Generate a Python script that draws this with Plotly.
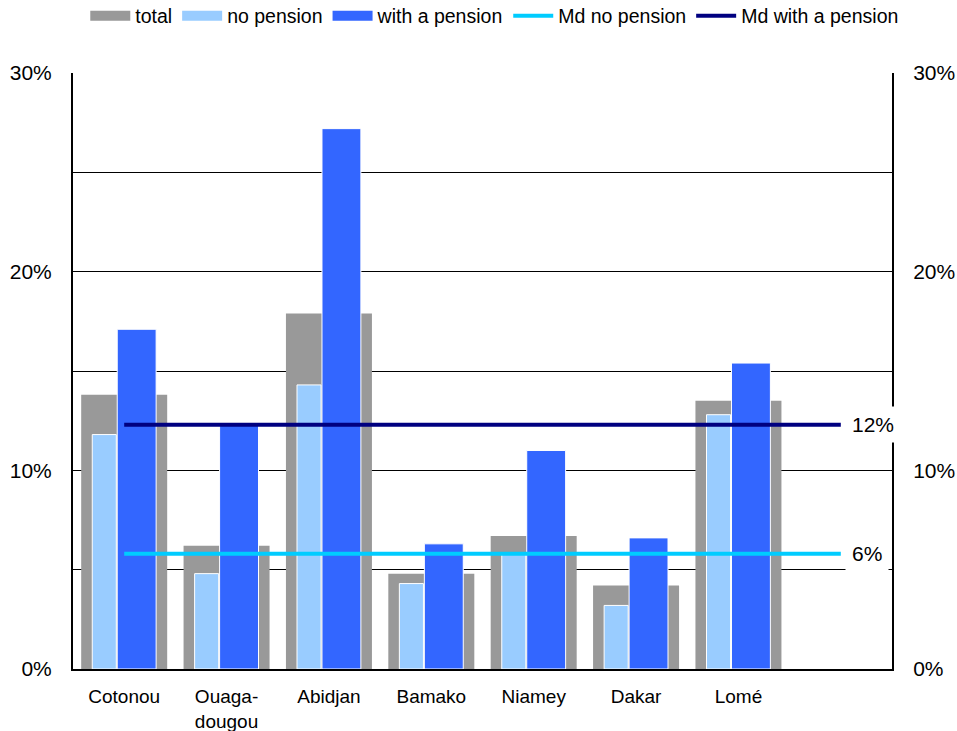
import plotly.graph_objects as go

cities = ["Cotonou", "Ouaga-<br>dougou", "Abidjan", "Bamako", "Niamey", "Dakar", "Lomé"]
total = [13.8, 6.2, 17.9, 4.8, 6.7, 4.2, 13.5]
no_pension = [11.8, 4.8, 14.3, 4.3, 5.8, 3.2, 12.8]
with_pension = [17.1, 12.3, 27.2, 6.3, 11.0, 6.6, 15.4]
md_no_pension = 5.8
md_with_pension = 12.3
n_slots = 8  # 7 cities + one empty slot
y_ticks = [0, 10, 20, 30]
y_tick_labels = [f"{v}%" for v in y_ticks]

GRAY = "#999999"
LIGHT = "#99CCFF"
BLUE = "#3366FF"
CYAN = "#00CCFF"
NAVY = "#000080"
FONT = "Liberation Sans, Arial, sans-serif"

xs = list(range(len(cities)))
slots = list(range(n_slots))

fig = go.Figure()

fig.add_trace(go.Bar(x=xs, y=total, width=0.84, offset=-0.42,
                     marker=dict(color=GRAY, line=dict(width=0)),
                     showlegend=False, name="total"))
fig.add_trace(go.Bar(x=xs, y=no_pension, width=0.235, offset=-0.312,
                     marker=dict(color=LIGHT, line=dict(width=1, color="white")),
                     showlegend=False, name="no pension"))
fig.add_trace(go.Bar(x=xs, y=with_pension, width=0.38, offset=-0.068,
                     marker=dict(color=BLUE, line=dict(width=1, color="white")),
                     showlegend=False, name="with a pension"))

fig.add_trace(go.Scatter(x=slots, y=[md_no_pension] * n_slots, mode="lines",
                         line=dict(color=CYAN, width=4), showlegend=False,
                         yaxis="y2"))
fig.add_trace(go.Scatter(x=slots, y=[md_with_pension] * n_slots, mode="lines",
                         line=dict(color=NAVY, width=4), showlegend=False,
                         yaxis="y2"))

# legend entries
for name, col, w in [("total", GRAY, 12), ("no pension", LIGHT, 12),
                     ("with a pension", BLUE, 12), ("Md no pension", CYAN, 4),
                     ("Md with a pension", NAVY, 4)]:
    fig.add_trace(go.Scatter(x=[None], y=[None], mode="lines", name=name,
                             line=dict(color=col, width=w)))

for val in [md_with_pension, md_no_pension]:
    fig.add_annotation(x=slots[-1], y=val, yref="y2", text=f"{round(val)}%",
                       showarrow=False, xanchor="left", xshift=4,
                       bgcolor="white", borderpad=6,
                       font=dict(family=FONT, size=21, color="black"))

yaxis_common = dict(range=[0, 30], tickmode="array", tickvals=y_ticks,
                    ticktext=y_tick_labels,
                    showline=True, linecolor="black", linewidth=2,
                    ticks="", ticklabelstandoff=15, zeroline=False,
                    tickfont=dict(family=FONT, size=21, color="black"))

fig.update_layout(
    width=957, height=731,
    margin=dict(l=73, r=65, t=73, b=62, autoexpand=False),
    paper_bgcolor="white", plot_bgcolor="white",
    barmode="overlay",
    font=dict(family=FONT, size=19, color="black"),
    xaxis=dict(range=[-0.5, n_slots - 0.5], tickvals=xs, ticktext=cities,
               showgrid=False, zeroline=False, showline=True,
               linecolor="black", linewidth=2, ticks="",
               ticklabelstandoff=9,
               tickfont=dict(family=FONT, size=19, color="black")),
    yaxis=dict(**yaxis_common, showgrid=True, gridcolor="black", gridwidth=1,
               minor=dict(dtick=5, showgrid=True, gridcolor="black", gridwidth=1),
               side="left"),
    yaxis2=dict(**yaxis_common, overlaying="y", side="right", showgrid=False),
    legend=dict(orientation="h", x=0.515, xanchor="center",
                yref="container", y=0.978, yanchor="middle",
                itemwidth=40, tracegroupgap=0,
                font=dict(family=FONT, size=19.5, color="black"),
                bgcolor="rgba(0,0,0,0)"),
)

fig.write_html("out.html")
